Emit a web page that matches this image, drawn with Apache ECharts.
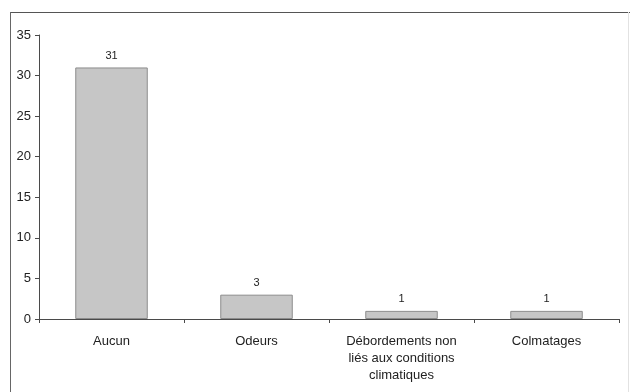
<!DOCTYPE html>
<html>
<head>
<meta charset="utf-8">
<script src="https://cdn.jsdelivr.net/npm/echarts@6/dist/echarts.min.js"></script>
<style>
  html, body { margin: 0; padding: 0; background: #fff; }
  #chart { width: 630px; height: 392px; }
</style>
</head>
<body>
<div id="chart"></div>
<script>
// Problèmes signalés par catégorie
const categories = [
  'Aucun',
  'Odeurs',
  'Débordements non\nliés aux conditions\nclimatiques',
  'Colmatages'
];
const counts = [31, 3, 1, 1];
const yTicks = [0, 5, 10, 15, 20, 25, 30, 35];

const font = '"Liberation Sans", Arial, sans-serif';
const chart = echarts.init(document.getElementById('chart'), null, { renderer: 'canvas' });

chart.setOption({
  backgroundColor: '#ffffff',
  animation: false,
  grid: { left: 39, right: 11, top: 35, bottom: 73, containLabel: false },
  xAxis: {
    type: 'category',
    data: categories,
    axisLine: { lineStyle: { color: '#4a4a4a', width: 1 } },
    axisTick: { show: true, length: 4, inside: false, lineStyle: { color: '#4a4a4a' } },
    axisLabel: {
      interval: 0,
      margin: 14,
      color: '#222',
      fontFamily: font,
      fontSize: 13,
      lineHeight: 17
    }
  },
  yAxis: {
    type: 'value',
    min: yTicks[0],
    max: yTicks[yTicks.length - 1],
    interval: yTicks[1] - yTicks[0],
    splitLine: { show: false },
    axisLine: { show: true, lineStyle: { color: '#4a4a4a', width: 1 } },
    axisTick: { show: true, length: 4, lineStyle: { color: '#4a4a4a' } },
    axisLabel: {
      margin: 8,
      color: '#222',
      fontFamily: font,
      fontSize: 13
    }
  },
  series: [{
    type: 'bar',
    data: counts,
    barWidth: '50%',
    itemStyle: {
      color: '#c6c6c6',
      borderColor: '#8c8c8c',
      borderWidth: 1
    },
    label: {
      show: true,
      position: 'top',
      distance: 6,
      color: '#222',
      fontFamily: font,
      fontSize: 11
    }
  }],
  graphic: [
    // cadre du graphique
    { type: 'line', shape: { x1: 10, y1: 12.5, x2: 630, y2: 12.5 }, style: { stroke: '#555', lineWidth: 1.2 } },
    { type: 'line', shape: { x1: 10.5, y1: 12, x2: 10.5, y2: 392 }, style: { stroke: '#666', lineWidth: 1 } },
    { type: 'line', shape: { x1: 628.5, y1: 12, x2: 628.5, y2: 392 }, style: { stroke: '#e2e2e2', lineWidth: 1 } }
  ]
});
</script>
</body>
</html>
